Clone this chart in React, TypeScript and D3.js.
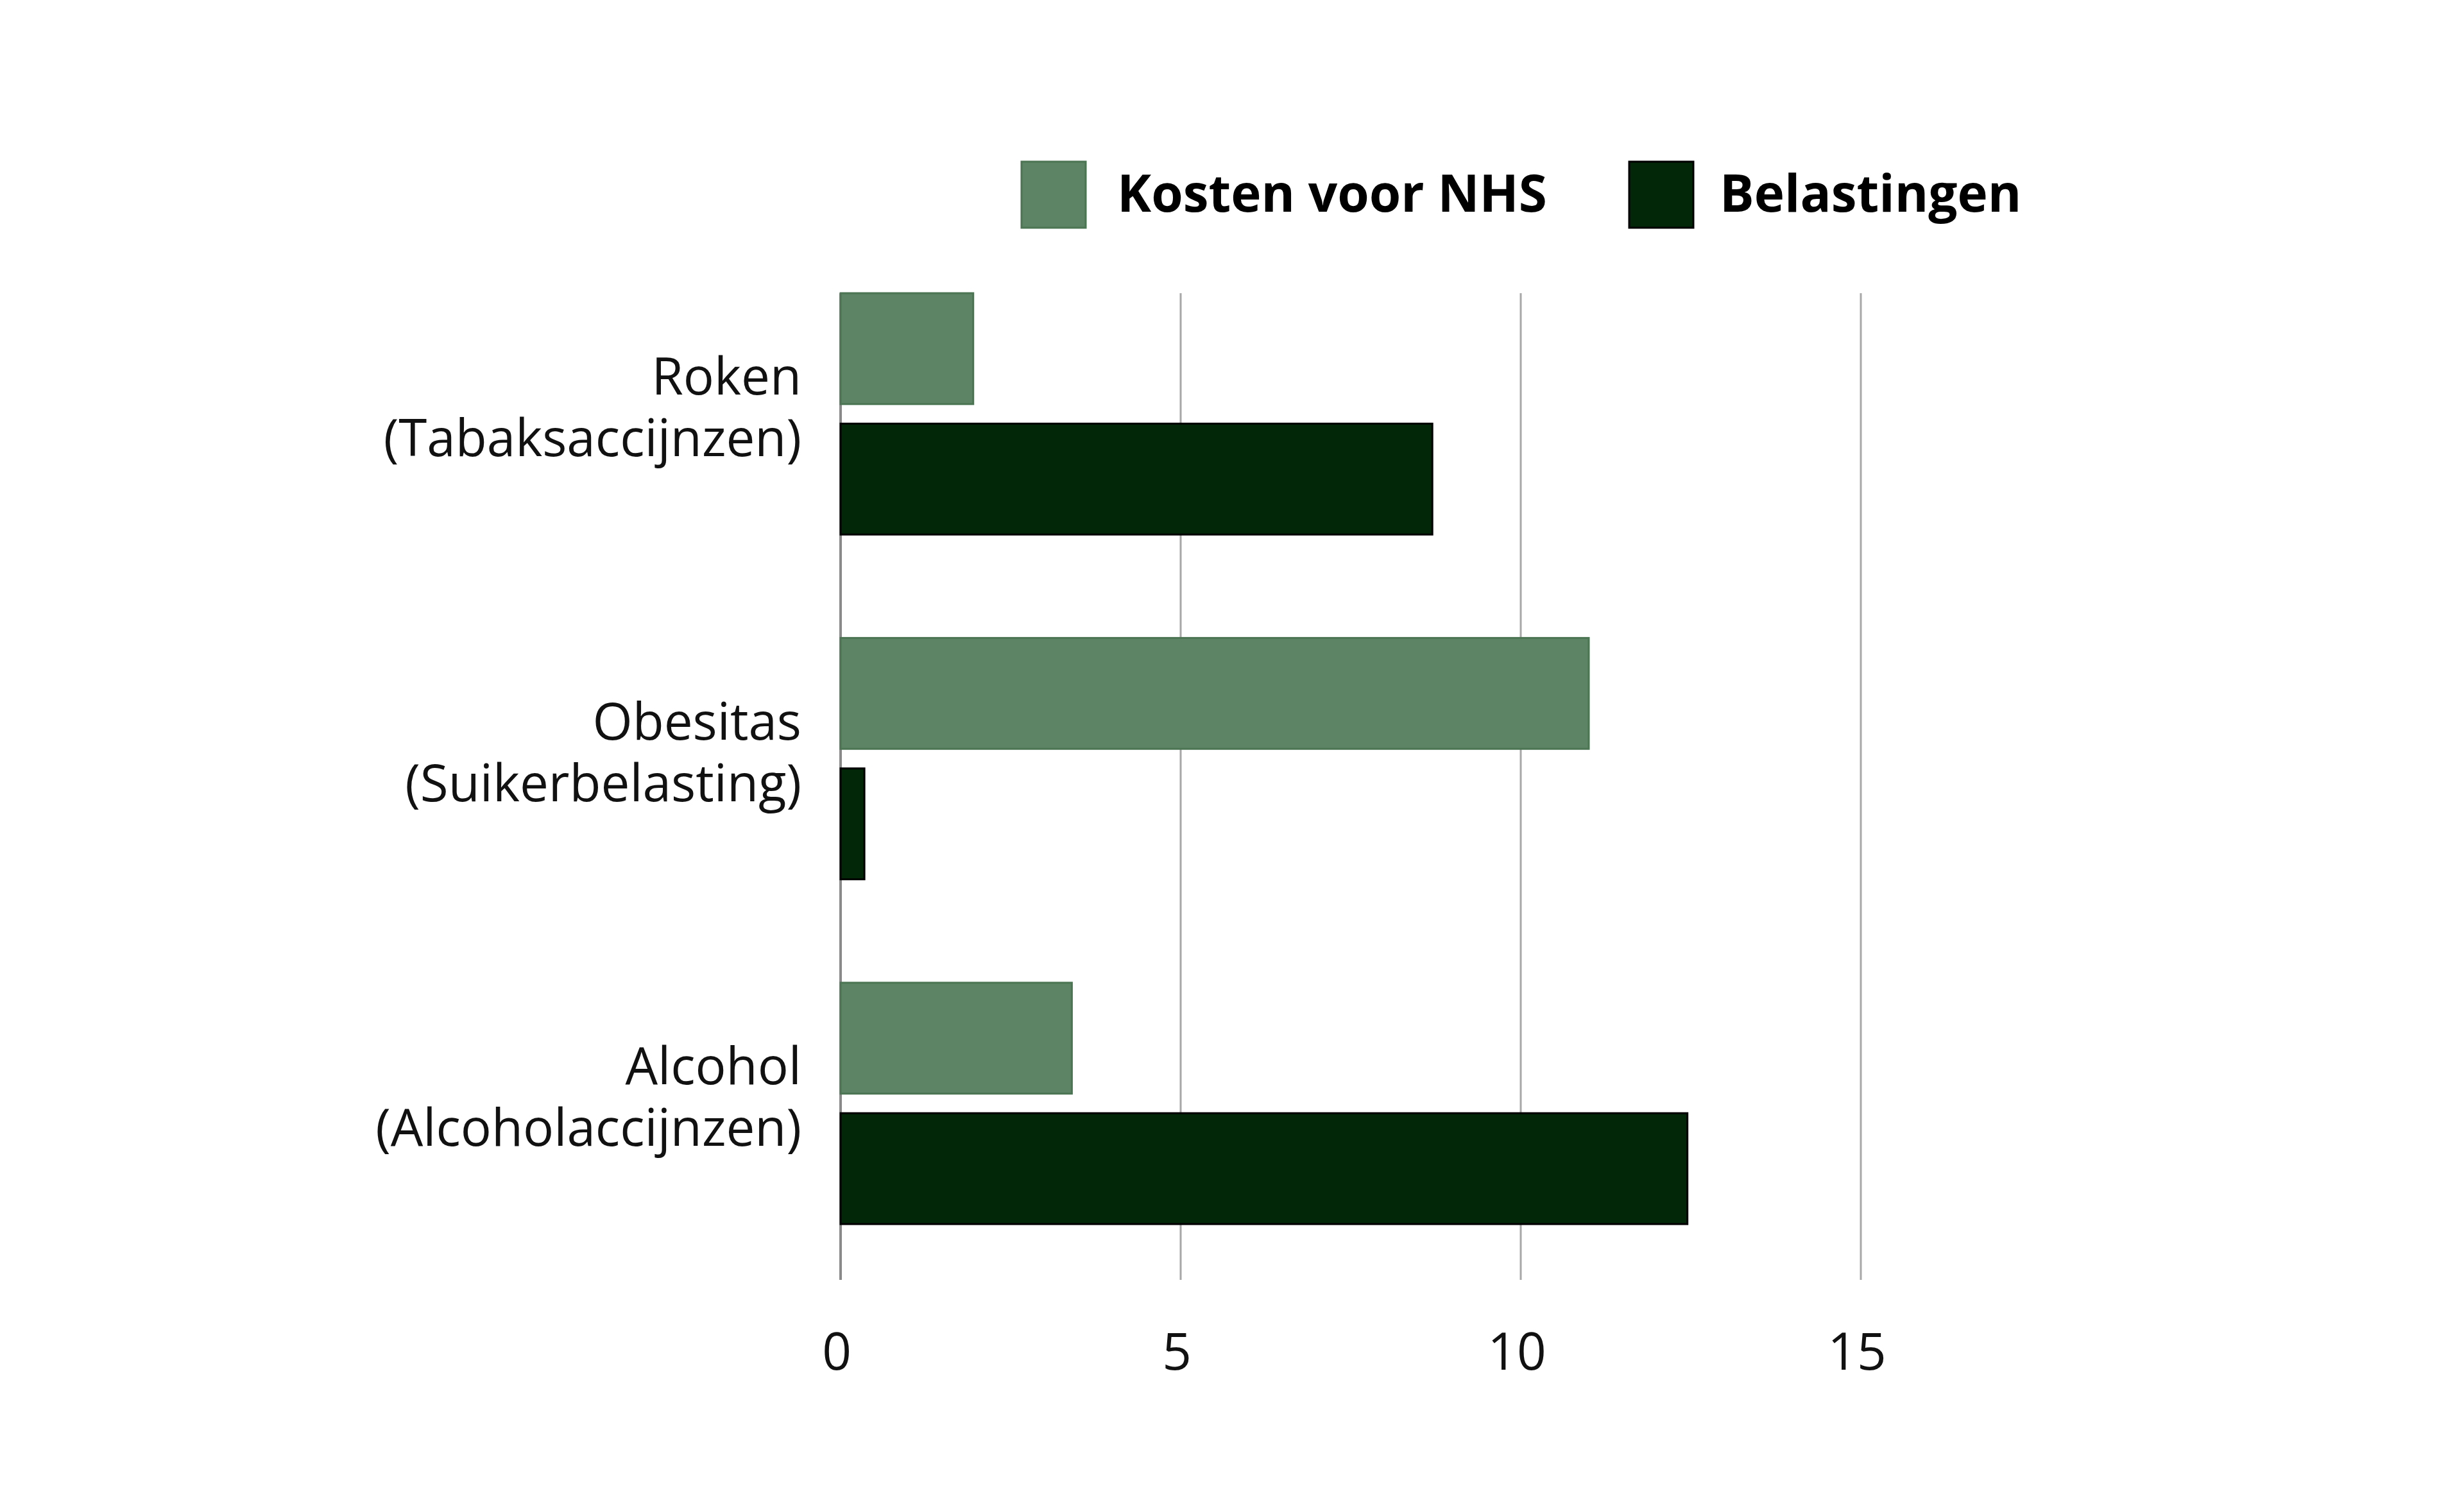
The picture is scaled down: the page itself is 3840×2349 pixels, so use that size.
import React from 'react';
import * as d3 from 'd3';

const categories = ['Roken', 'Obesitas', 'Alcohol'];
const subLabels = ['(Tabaksaccijnzen)', '(Suikerbelasting)', '(Alcoholaccijnzen)'];
const seriesNames = ['Kosten voor NHS', 'Belastingen'];
const nhsCosts = [1.95, 11.0, 3.4];
const taxes = [8.7, 0.35, 12.45];
const xTicks = [0, 5, 10, 15];

const colors = ['#5d8464', '#022608'];
const strokes = ['#4b7553', '#000000'];

const width = 3840;
const height = 2349;
const plotTop = 457;
const plotBottom = 1995;
const font = '"Open Sans", "Noto Sans", sans-serif';

const App: React.FC = () => {
  const x = d3.scaleLinear().domain([0, 15]).range([1310, 2900]);

  const y = d3.scaleBand<string>()
    .domain(categories)
    .range([plotTop, 1908])
    .paddingInner(0.3)
    .paddingOuter(0);

  const ySub = d3.scaleBand<string>()
    .domain(seriesNames)
    .range([0, y.bandwidth()])
    .paddingInner(0.15);

  const series = [nhsCosts, taxes];

  // legend layout
  const legendItems = [
    { name: seriesNames[0], boxX: 1592, textX: 1741 },
    { name: seriesNames[1], boxX: 2539, textX: 2680 },
  ];

  return (
    <svg
      width={width}
      height={height}
      style={{ position: 'absolute', left: 0, top: 0, background: '#fff' }}
      fontFamily={font}
    >
      <rect width={width} height={height} fill="#fff" />

      {/* legend */}
      {legendItems.map((item, i) => (
        <g key={item.name}>
          <rect x={item.boxX} y={252} width={100} height={103}
            fill={colors[i]} stroke={strokes[i]} strokeWidth={3} />
          <text x={item.textX} y={330} fontSize={80} fontWeight={700} fill="#000">
            {item.name}
          </text>
        </g>
      ))}

      {/* gridlines */}
      {xTicks.map(t => (
        <line key={t} x1={x(t)} x2={x(t)} y1={plotTop} y2={plotBottom}
          stroke={t === 0 ? '#8a8a8a' : '#a8a8a8'} strokeWidth={t === 0 ? 4 : 3} />
      ))}

      {/* bars */}
      {categories.map((c, ci) => (
        <g key={c} transform={`translate(0,${y(c)})`}>
          {seriesNames.map((s, si) => (
            <rect key={s}
              x={x(0)}
              y={ySub(s)}
              width={x(series[si][ci]) - x(0)}
              height={ySub.bandwidth()}
              fill={colors[si]}
              stroke={strokes[si]}
              strokeWidth={3} />
          ))}
        </g>
      ))}

      {/* category labels */}
      {categories.map((c, ci) => {
        const cy = (y(c) ?? 0) + y.bandwidth() / 2;
        return (
          <g key={c}>
            <text x={1249} y={cy - 30} textAnchor="end" fontSize={80} fill="#111">{c}</text>
            <text x={1249} y={cy + 66} textAnchor="end" fontSize={80} fill="#111">{subLabels[ci]}</text>
          </g>
        );
      })}

      {/* x tick labels */}
      {xTicks.map(t => (
        <text key={t} x={x(t) - 6} y={2135} textAnchor="middle" fontSize={80} fill="#111">
          {t}
        </text>
      ))}
    </svg>
  );
};

export default App;
